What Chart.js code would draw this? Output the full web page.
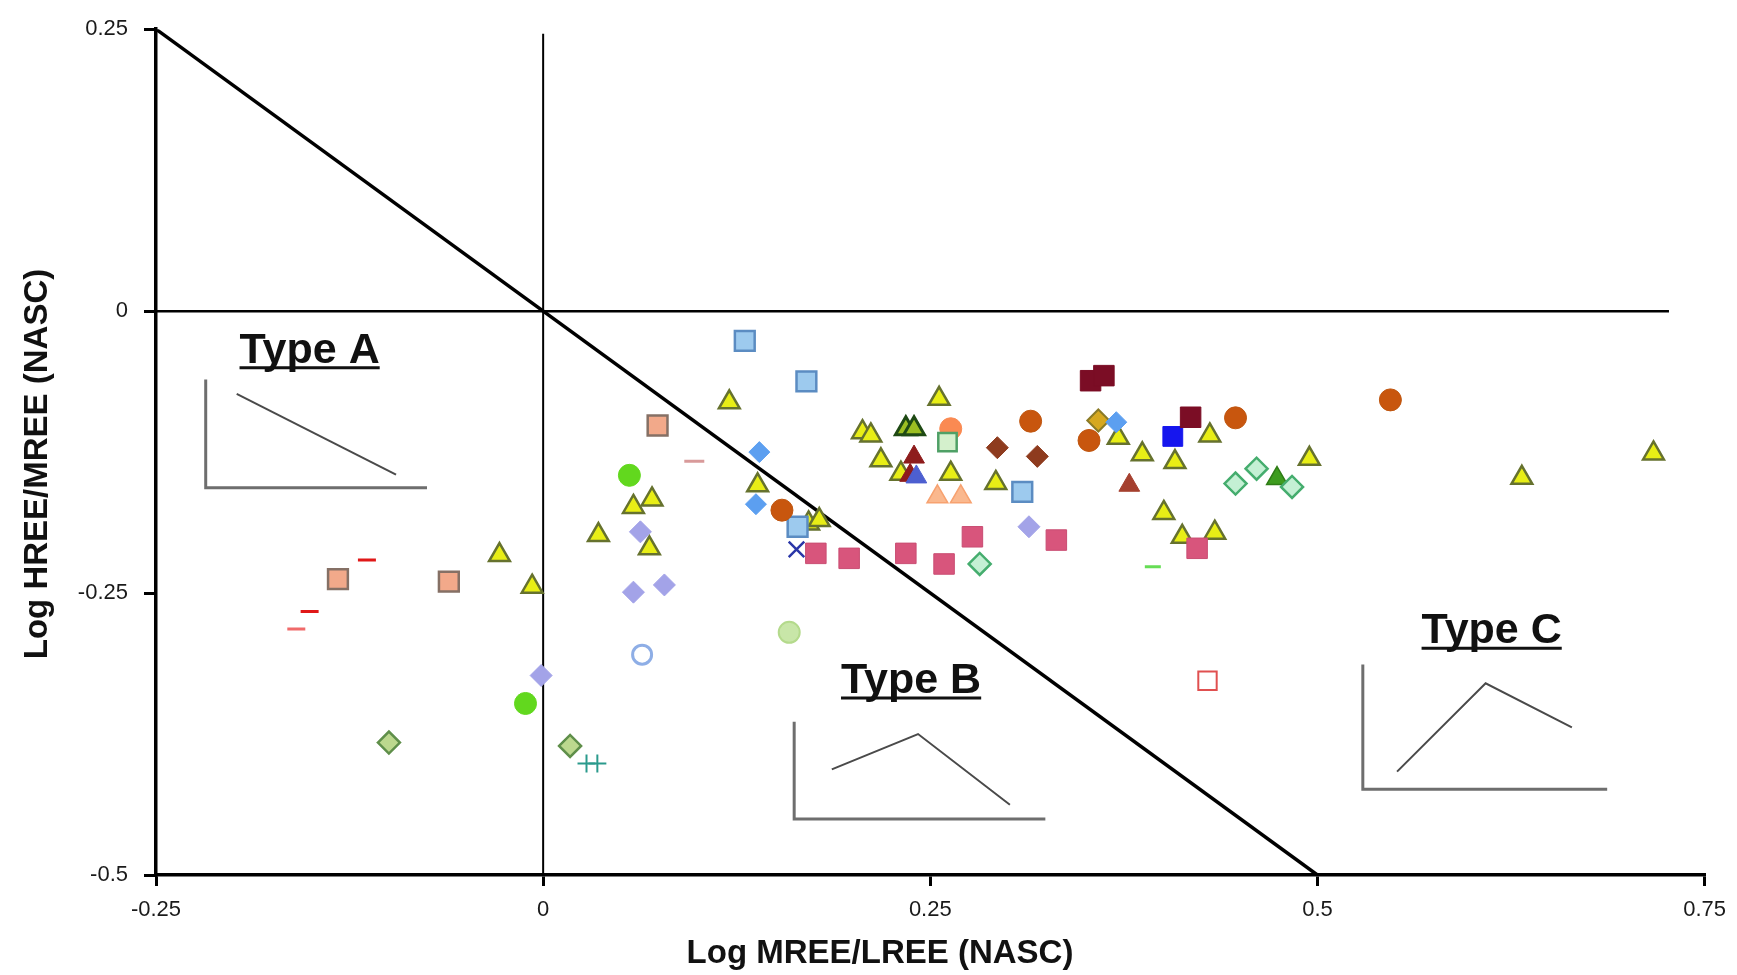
<!DOCTYPE html>
<html lang="en">
<head>
<meta charset="UTF-8">
<title>REE pattern types</title>
<script src="https://cdn.jsdelivr.net/npm/chart.js"></script>
<style>
  body { margin: 0; background: #fff; }
  canvas { display: block; }
</style>
</head>
<body>
<canvas id="reeChart" width="1737" height="975"></canvas>
<script>
// axis ticks
const xTickValues = [-0.25, 0, 0.25, 0.5, 0.75];
const xTickLabels = ['-0.25', '0', '0.25', '0.5', '0.75'];
const yTickValues = [0.25, 0, -0.25, -0.5];
const yTickLabels = ['0.25', '0', '-0.25', '-0.5'];

// samples as [Log MREE/LREE, Log HREE/MREE]
const yellowTriangles = [
  [0.1202, -0.0808], [0.1385, -0.1544], [0.0583, -0.1736], [0.0703, -0.1670],
  [0.0357, -0.1986], [0.0686, -0.2103], [-0.0282, -0.2163], [-0.0071, -0.2443],
  [0.1714, -0.1883], [0.1783, -0.1853], [0.2557, -0.0778], [0.2062, -0.1073],
  [0.2116, -0.1102], [0.2181, -0.1323], [0.2310, -0.1441], [0.2632, -0.1441],
  [0.2923, -0.1524], [0.3714, -0.1123], [0.3869, -0.1270], [0.4080, -0.1338],
  [0.4305, -0.1102], [0.4008, -0.1789], [0.4127, -0.2001], [0.4337, -0.1965],
  [0.4948, -0.1309], [0.6320, -0.1478], [0.7170, -0.1262]
];
const hatchedTriangles = [[0.2342, -0.1043], [0.2395, -0.1043]];
const blueTriangles = [[0.2410, -0.1470]];
const darkRedTriangles = [[0.2395, -0.1294], [0.2370, -0.1456]];
const brickTriangles = [[0.3785, -0.1544]];
const peachTriangles = [[0.2546, -0.1647], [0.2697, -0.1647]];
const greenTriangles = [[0.4739, -0.1485]];

const skyBlueSquares = [[0.1302, -0.0264], [0.1700, -0.0623], [0.3094, -0.1603], [0.1643, -0.1912]];
const tanSquares = [[0.0739, -0.1014], [-0.1325, -0.2377], [-0.0609, -0.2398]];
const roseSquares = [
  [0.1761, -0.2148], [0.1976, -0.2192], [0.2342, -0.2148], [0.2589, -0.2242],
  [0.2772, -0.2001], [0.3314, -0.2030], [0.4223, -0.2103]
];
const maroonSquares = [[0.3535, -0.0617], [0.3621, -0.0572], [0.4181, -0.0941]];
const blueSquares = [[0.4066, -0.1111]];
const mintSquares = [[0.2611, -0.1162]];
const openRedSquares = [[0.4290, -0.3278]];

const rustCircles = [[0.1542, -0.1765], [0.3148, -0.0976], [0.3525, -0.1147], [0.4471, -0.0946], [0.5471, -0.0787]];
const coralCircles = [[0.2632, -0.1043]];
const limeCircles = [[0.0557, -0.1456], [-0.0114, -0.3479]];
const openBlueCircles = [[0.0639, -0.3046]];
const paleGreenCircles = [[0.1589, -0.2848]];

const lavenderDiamonds = [[0.0628, -0.1957], [0.0583, -0.2492], [0.0783, -0.2428], [-0.0013, -0.3231], [0.3137, -0.1912]];
const blueDiamonds = [[0.1396, -0.1250], [0.1374, -0.1712], [0.3701, -0.0985]];
const brownDiamonds = [[0.2933, -0.1211], [0.3191, -0.1288]];
const goldDiamonds = [[0.3585, -0.0970]];
const oliveDiamonds = [[-0.0996, -0.3826], [0.0174, -0.3856]];
const seaDiamonds = [[0.2819, -0.2242], [0.4471, -0.1529], [0.4607, -0.1397], [0.4836, -0.1559]];

const redDashes = [[-0.1138, -0.2207], [-0.1508, -0.2663]];
const pinkRedDashes = [[-0.1594, -0.2819]];
const dustyDashes = [[0.0976, -0.1332]];
const greenDashes = [[0.3937, -0.2266]];
const blueCrosses = [[0.1636, -0.2112]];
const tealPluses = [[0.0280, -0.4012], [0.0350, -0.4012]];

// field boundaries
const diagonalLine = [[-0.25, 0.25], [0.5, -0.5]];
const zeroHLine = [[-0.25, 0], [0.727, 0]];
const zeroVLine = [[0, -0.5], [0, 0.246]];

// small sketches of each pattern type
const typeAFrame = [[-0.2179, -0.0607], [-0.2179, -0.1567], [-0.0750, -0.1567]];
const typeAShape = [[-0.1979, -0.0734], [-0.0950, -0.1449]];
const typeBFrame = [[0.1621, -0.3642], [0.1621, -0.4504], [0.3243, -0.4504]];
const typeBShape = [[0.1864, -0.4063], [0.2421, -0.3750], [0.3014, -0.4377]];
const typeCFrame = [[0.5293, -0.3133], [0.5293, -0.4239], [0.6871, -0.4239]];
const typeCShape = [[0.5514, -0.4083], [0.6086, -0.3300], [0.6643, -0.3691]];

const typeNames = ['Type A', 'Type B', 'Type C'];
const typeNameAt = [[-0.1508, -0.0458], [0.2376, -0.3386], [0.6125, -0.2945]];

const toXY = arr => arr.map(([x, y]) => ({ x, y }));

function markers(data, style, fill, stroke, radius, width) {
  return {
    data: toXY(data),
    pointStyle: style,
    backgroundColor: fill,
    borderColor: stroke,
    pointRadius: radius,
    pointHoverRadius: radius,
    borderWidth: width,
    showLine: false,
    order: 1
  };
}

function polyline(data, color, width) {
  return {
    data: toXY(data),
    showLine: true,
    borderColor: color,
    borderWidth: width,
    pointRadius: 0,
    pointHoverRadius: 0,
    fill: false,
    tension: 0,
    order: 5
  };
}

const datasets = [
  polyline(diagonalLine, '#000', 3.5),
  polyline(zeroHLine, '#000', 2.5),
  polyline(zeroVLine, '#000', 2),
  polyline(typeAFrame, '#6e6e6e', 3),
  polyline(typeAShape, '#4a4a4a', 2),
  polyline(typeBFrame, '#6e6e6e', 3),
  polyline(typeBShape, '#4a4a4a', 2),
  polyline(typeCFrame, '#6e6e6e', 3),
  polyline(typeCShape, '#4a4a4a', 2),

  markers(redDashes, 'line', '#e01818', '#e01818', 9, 3),
  markers(pinkRedDashes, 'line', '#f06a6a', '#f06a6a', 9, 3),
  markers(dustyDashes, 'line', '#d89a9a', '#d89a9a', 10, 3),
  markers(greenDashes, 'line', '#66dd55', '#66dd55', 8, 3),
  markers(blueCrosses, 'crossRot', '#2a36a8', '#2a36a8', 11, 2.5),
  markers(tealPluses, 'cross', '#2a9a8c', '#2a9a8c', 9, 2),

  markers(lavenderDiamonds, 'rectRot', '#a3a3e8', '#a3a3e8', 11, 1),
  markers(blueDiamonds, 'rectRot', '#5c9ff0', '#5c9ff0', 10.5, 1),
  markers(brownDiamonds, 'rectRot', '#8e3b1e', '#8e3b1e', 11, 1),
  markers(goldDiamonds, 'rectRot', '#d6a820', '#8a7a26', 11, 2),
  markers(oliveDiamonds, 'rectRot', '#bcd88e', '#5f8f4a', 11, 2.5),
  markers(seaDiamonds, 'rectRot', '#c4f0d4', '#45ad6e', 11, 2.5),

  markers(mintSquares, 'rect', '#d4f0cc', '#4fa066', 13, 2.5),
  markers(rustCircles, 'circle', '#c8560e', '#bf5610', 11, 1),
  markers(coralCircles, 'circle', '#fa8a52', '#fa8a52', 11, 1),
  markers(limeCircles, 'circle', '#62d81e', '#62d81e', 11, 1),
  markers(openBlueCircles, 'circle', '#ffffff', '#8eaee6', 9.5, 3),
  markers(paleGreenCircles, 'circle', '#c8e6a8', '#b4da8c', 10.5, 2),

  markers(skyBlueSquares, 'rect', '#9dcaee', '#5b8cc2', 14, 2.5),
  markers(tanSquares, 'rect', '#f2a98a', '#857065', 14, 2.5),
  markers(roseSquares, 'rect', '#d8557c', '#c94d72', 14.5, 1),
  markers(maroonSquares, 'rect', '#7b0d25', '#7b0d25', 14.5, 1),
  markers(blueSquares, 'rect', '#1616ee', '#1616ee', 14, 1),
  markers(openRedSquares, 'rect', '#ffffff', '#e05050', 13, 2),

  markers(blueTriangles, 'triangle', '#4d5fd0', '#4d5fd0', 12, 1),
  markers(darkRedTriangles, 'triangle', '#8e1c1c', '#8e1c1c', 12, 1),
  markers(brickTriangles, 'triangle', '#a5402f', '#a5402f', 12, 1),
  markers(peachTriangles, 'triangle', '#fab88e', '#f7a270', 12, 1.5),
  markers(greenTriangles, 'triangle', '#3d9c1e', '#2f7c16', 12, 1.5),
  markers(hatchedTriangles, 'triangle', '#9cbf22', '#1f4a14', 12, 3),
  markers(yellowTriangles, 'triangle', '#e8ee16', '#66722e', 12, 2.5)
];

// type labels and axis titles
const annotations = {
  id: 'annotations',
  afterDatasetsDraw(chart) {
    const { ctx, scales: { x, y } } = chart;
    ctx.save();
    ctx.fillStyle = '#111';
    ctx.strokeStyle = '#111';
    ctx.textAlign = 'center';
    ctx.textBaseline = 'alphabetic';
    ctx.font = 'bold 43px "Liberation Sans", Arial, sans-serif';
    typeNames.forEach((name, i) => {
      const px = x.getPixelForValue(typeNameAt[i][0]);
      const py = y.getPixelForValue(typeNameAt[i][1]);
      const w = ctx.measureText(name).width;
      ctx.fillText(name, px, py);
      ctx.lineWidth = 3;
      ctx.beginPath();
      ctx.moveTo(px - w / 2, py + 5);
      ctx.lineTo(px + w / 2, py + 5);
      ctx.stroke();
    });

    ctx.font = 'bold 33px "Liberation Sans", Arial, sans-serif';
    ctx.fillText('Log MREE/LREE (NASC)', 880, 963);
    ctx.translate(47, 464);
    ctx.rotate(-Math.PI / 2);
    ctx.fillText('Log HREE/MREE (NASC)', 0, 0);
    ctx.restore();
  }
};

const tickFont = { family: '"Liberation Sans", Arial, sans-serif', size: 22 };

new Chart(document.getElementById('reeChart'), {
  type: 'scatter',
  data: { datasets },
  plugins: [annotations],
  options: {
    responsive: false,
    animation: false,
    devicePixelRatio: 1,
    layout: { padding: { top: 27, right: 31, left: 0, bottom: 0 } },
    plugins: { legend: { display: false }, tooltip: { enabled: false } },
    scales: {
      x: {
        type: 'linear',
        min: -0.25,
        max: 0.75,
        afterBuildTicks: s => { s.ticks = xTickValues.map(v => ({ value: v })); },
        afterFit: s => { s.height = 100; },
        ticks: {
          callback: v => xTickLabels[xTickValues.indexOf(v)],
          color: '#1a1a1a',
          font: tickFont,
          padding: 11,
          maxRotation: 0
        },
        grid: { drawOnChartArea: false, drawTicks: true, tickLength: 11, color: '#000', lineWidth: 3 },
        border: { display: true, color: '#000', width: 3.5 }
      },
      y: {
        type: 'linear',
        min: -0.5,
        max: 0.25,
        afterBuildTicks: s => { s.ticks = yTickValues.map(v => ({ value: v })); },
        afterFit: s => { s.width = 156; },
        ticks: {
          callback: v => yTickLabels[yTickValues.indexOf(v)],
          color: '#1a1a1a',
          font: tickFont,
          padding: 16
        },
        grid: { drawOnChartArea: false, drawTicks: true, tickLength: 12, color: '#000', lineWidth: 3 },
        border: { display: true, color: '#000', width: 3.5 }
      }
    }
  }
});
</script>
</body>
</html>
